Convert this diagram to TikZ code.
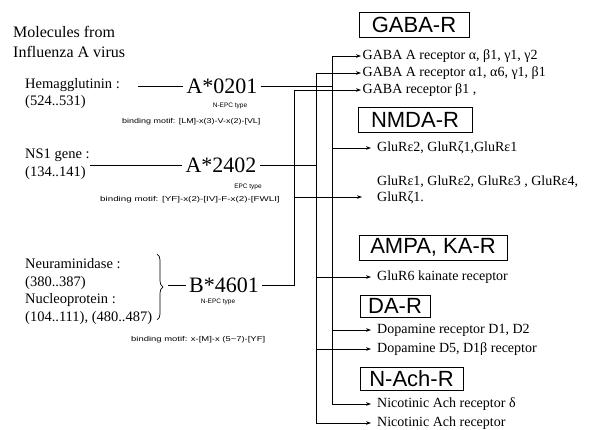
\documentclass[tikz,border=0pt]{standalone}
\usepackage{fontspec}
\setmainfont{Liberation Serif}
\setsansfont{Liberation Sans}
\usepackage{graphicx}
\usetikzlibrary{arrows.meta,decorations.pathreplacing}
\begin{document}
\begin{tikzpicture}[x=1pt,y=-1pt,
  lbl/.style={anchor=west,inner sep=0pt,align=left,font=\fontsize{14.5}{17.6}\selectfont},
  rtA/.style={anchor=west,inner xsep=1.5pt,inner ysep=0pt,font=\fontsize{14}{16}\selectfont},
  rtB/.style={anchor=west,inner xsep=6pt,inner ysep=0pt,font=\fontsize{14}{16}\selectfont},
  allele/.style={inner xsep=3pt,inner ysep=0pt,font=\fontsize{22}{24}\selectfont},
  tinyt/.style={inner sep=0pt,font=\sffamily\fontsize{6.5}{7}\selectfont},
  motif/.style={anchor=west,inner sep=0pt,font=\sffamily\fontsize{7}{8}\selectfont},
  rbox/.style={draw,line width=0.8pt,inner sep=0pt,font=\sffamily\fontsize{22}{24}\selectfont},
  ln/.style={line width=0.7pt},
  arr/.style={line width=0.7pt,-{Stealth[length=5pt,width=3.6pt]}}
]
\useasboundingbox (0,0) rectangle (596,430);

% left column
\node[lbl,font=\fontsize{16}{20}\selectfont] (title) at (13,42) {Molecules from\\Influenza A virus};
\node[lbl] (ha) at (25,93.5) {Hemagglutinin :\\(524..531)};
\node[lbl] (ns) at (25,164) {NS1 gene :\\(134..141)};
\node[lbl] (nanp) at (25,291.5) {Neuraminidase :\\(380..387)\\Nucleoprotein :\\(104..111), (480..487)};

% alleles
\node[allele] (A02) at (222,86) {A*0201};
\node[allele] (A24) at (221,165) {A*2402};
\node[allele] (B46) at (224,285) {B*4601};

\node[tinyt] (t1) at (230,106) {N-EPC type};
\node[motif] (m1) at (122,122) {\scalebox{1.28}[1]{binding motif: [LM]-x(3)-V-x(2)-[VL]}};
\node[tinyt] (t2) at (248,187) {EPC type};
\node[motif] (m2) at (100,200) {\scalebox{1.4}[1]{binding motif: [YF]-x(2)-[IV]-F-x(2)-[FWLI]}};
\node[tinyt] (t3) at (218,302) {N-EPC type};
\node[motif] (m3) at (131,340) {\scalebox{1.35}[1]{binding motif: x-[M]-x (5\textasciitilde7)-[YF]}};

% lines into alleles
\coordinate (ha0) at (138,0);
\coordinate (ns0) at (90,0);
\coordinate (br0) at (168,0);
\draw[ln] (A02.west -| ha0) -- (A02.west);
\draw[ln] (A24.west -| ns0) -- (A24.west);
\draw[ln] (B46.west -| br0) -- (B46.west);
\draw[ln,decorate,decoration={brace,amplitude=6pt}] (157,254) -- (157,320);

% receptor boxes
\node[rbox,minimum width=110pt,minimum height=25pt] (gaba) at (414,24.5) {GABA-R};
\node[rbox,minimum width=114pt,minimum height=25pt] (nmda) at (415,119.5) {NMDA-R};
\node[rbox,minimum width=148pt,minimum height=25pt] (ampa) at (433,247.5) {AMPA, KA-R};
\node[rbox,minimum width=70pt,minimum height=22pt] (da) at (395,306) {DA-R};
\node[rbox,minimum width=103pt,minimum height=23pt] (nach) at (411.5,378.5) {N-Ach-R};

% receptor lines
\node[rtA] (g1) at (361,56) {GABA A receptor α, β1, γ1, γ2};
\node[rtA] (g2) at (361,73) {GABA A receptor α1, α6, γ1, β1};
\node[rtA] (g3) at (361,90) {GABA receptor β1 ,};
\node[rtB] (n1) at (371,148) {GluRε2, GluRζ1,GluRε1};
\node[anchor=north west,inner sep=0pt,align=left,font=\fontsize{14}{15.5}\selectfont] (n2) at (377,176) {GluRε1, GluRε2, GluRε3 , GluRε4,\\GluRζ1.};
\coordinate (n2tip) at (362,197);
\node[rtB] (k1) at (371,277) {GluR6 kainate receptor};
\node[rtB] (d1) at (371,330) {Dopamine receptor D1, D2};
\node[rtB] (d5) at (371,349) {Dopamine D5, D1β receptor};
\node[rtB] (c1) at (371,404) {Nicotinic Ach receptor δ};
\node[rtB] (c2) at (371,423) {Nicotinic Ach receptor};

% trunks
\coordinate (vR) at (332,0);
\coordinate (vM) at (316,0);
\coordinate (vL) at (294,0);

% A*0201
\draw[ln] (A02.east) -- (A02.east -| vR);
\draw[arr] (vR |- c1.west) |- (g1.west);
\draw[arr] (vR |- n1.west) -- (n1.west);
\draw[arr] (vR |- d1.west) -- (d1.west);
\draw[arr] (vR |- c1.west) -- (c1.west);

% A*2402
\draw[ln] (A24.east) -- (A24.east -| vM);
\draw[arr] (vM |- c2.west) |- (g2.west);
\draw[arr] (vM |- k1.west) -- (k1.west);
\draw[arr] (vM |- d5.west) -- (d5.west);
\draw[arr] (vM |- c2.west) -- (c2.west);

% B*4601
\draw[arr] (B46.east) -| (vL |- g3.west) -- (g3.west);
\draw[arr] (vL |- n2tip) -- (n2tip);
\end{tikzpicture}
\end{document}
